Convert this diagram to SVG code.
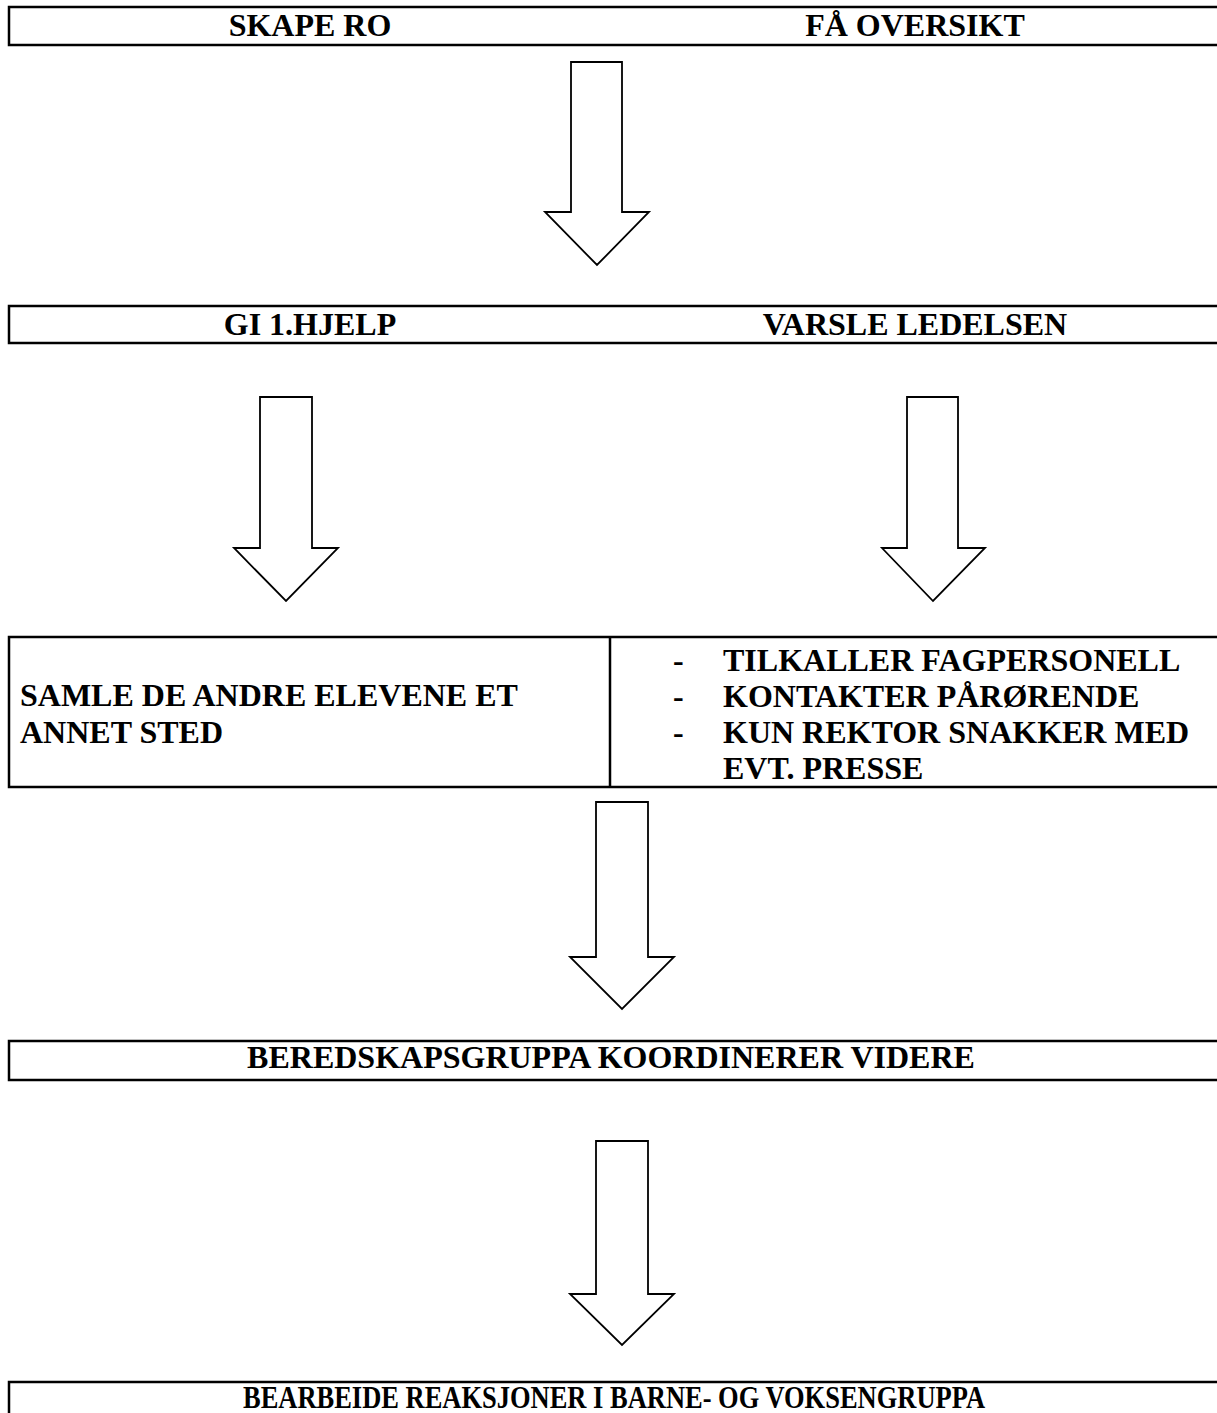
<svg xmlns="http://www.w3.org/2000/svg" width="1217" height="1413" viewBox="0 0 1217 1413">
<style>
.ln{fill:none;stroke:#000;stroke-width:2.5}
.arr{fill:#fff;stroke:#000;stroke-width:1.8;stroke-linejoin:miter}
.t{font-family:"Liberation Serif","Times New Roman",serif;font-weight:bold;font-size:32px;fill:#000}
.c{text-anchor:middle}
</style>
<rect x="0" y="0" width="1217" height="1413" fill="#fff"/>
<g id="bar1">
<path class="ln" d="M1217,7 H9 V45 H1217"/>
<text class="t c" x="310" y="36">SKAPE RO</text>
<text class="t c" x="915" y="36">FÅ OVERSIKT</text>
</g>
<g id="bar2">
<path class="ln" d="M1217,306 H9 V343 H1217"/>
<text class="t c" x="310" y="335">GI 1.HJELP</text>
<text class="t c" x="915" y="335">VARSLE LEDELSEN</text>
</g>
<g id="box3">
<path class="ln" d="M1217,637 H9 V787 H1217 M610,637 V787"/>
<text class="t" x="20" y="706">SAMLE DE ANDRE ELEVENE ET</text>
<text class="t" x="20" y="743">ANNET STED</text>
<text class="t" x="673" y="671">-</text>
<text class="t" x="723" y="671">TILKALLER FAGPERSONELL</text>
<text class="t" x="673" y="707">-</text>
<text class="t" x="723" y="707">KONTAKTER PÅRØRENDE</text>
<text class="t" x="673" y="743">-</text>
<text class="t" x="723" y="743">KUN REKTOR SNAKKER MED</text>
<text class="t" x="723" y="779">EVT. PRESSE</text>
</g>
<g id="bar4">
<path class="ln" d="M1217,1041 H9 V1080 H1217"/>
<text class="t c" x="611" y="1068">BEREDSKAPSGRUPPA KOORDINERER VIDERE</text>
</g>
<g id="bar5">
<path class="ln" d="M1217,1382 H9 V1413"/>
<text class="t" x="243" y="1408" textLength="742" lengthAdjust="spacingAndGlyphs">BEARBEIDE REAKSJONER I BARNE- OG VOKSENGRUPPA</text>
</g>
<g id="connectors">
<polygon class="arr" points="571,62 622,62 622,212 649,212 597,265 545,212 571,212"/>
<polygon class="arr" points="260,397 312,397 312,548 338,548 286,601 234,548 260,548"/>
<polygon class="arr" points="907,397 958,397 958,548 985,548 933,601 882,548 907,548"/>
<polygon class="arr" points="596,802 648,802 648,957 674,957 622,1009 570,957 596,957"/>
<polygon class="arr" points="596,1141 648,1141 648,1294 674,1294 622,1345 570,1294 596,1294"/>
</g>
</svg>
